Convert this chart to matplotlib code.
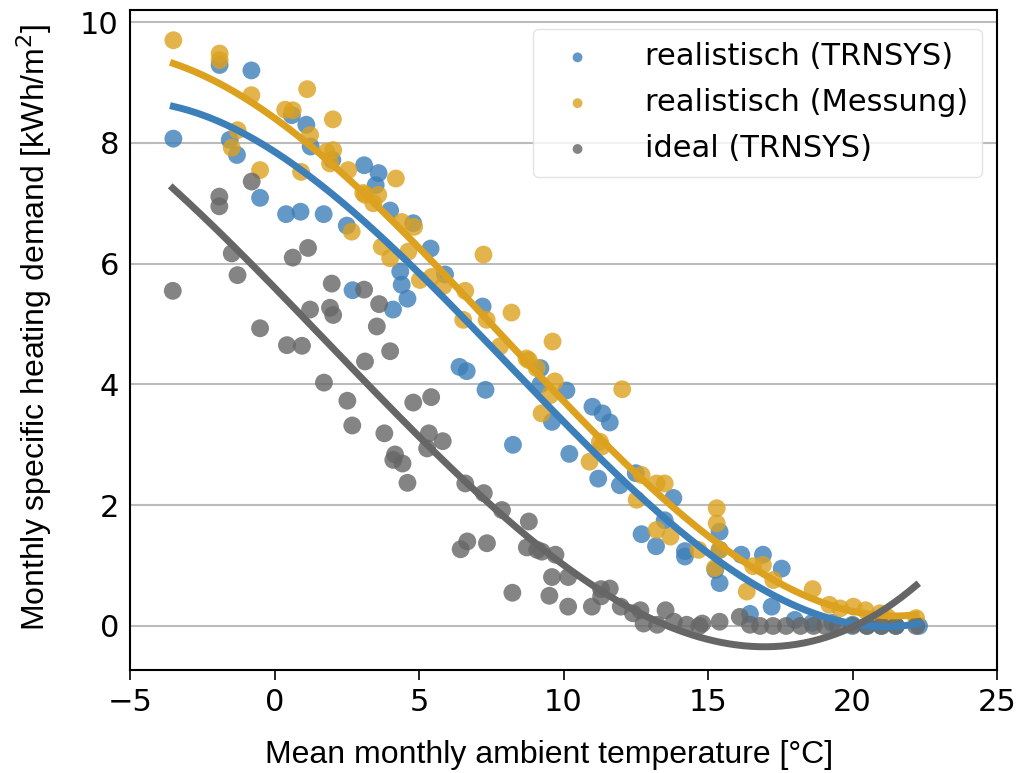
import numpy as np
import matplotlib
matplotlib.use("Agg")
import matplotlib.pyplot as plt

# realistic (TRNSYS)
blue_x = [-3.5, -1.9, -0.8, -1.55, -1.3, -0.5, 0.4, 0.9, 1.7, 2.5, 0.6, 1.1, 1.25, 2.0,
          3.1, 3.6, 3.5, 4.0, 4.8, 5.4, 4.35, 4.4, 4.6, 4.1, 2.7, 5.9, 7.2, 6.4, 6.65,
          7.3, 8.25, 9.2, 9.2, 9.6, 10.1, 10.2, 11.0, 11.35, 11.6, 11.2, 11.95, 12.5,
          13.8, 12.7, 13.2, 13.5, 14.2, 14.2, 15.4, 15.4, 15.25, 15.4, 16.15, 16.9,
          17.55, 16.45, 17.2, 18.0, 18.6, 19.3, 20.0, 20.5, 21.0, 21.5, 22.3]
blue_y = [8.07, 9.29, 9.2, 8.05, 7.8, 7.09, 6.82, 6.86, 6.82, 6.63, 8.46, 8.3, 7.94, 7.72,
          7.63, 7.5, 7.3, 6.88, 6.67, 6.25, 5.87, 5.65, 5.42, 5.24, 5.56, 5.82, 5.29, 4.29, 4.22,
          3.91, 3.0, 4.27, 4.0, 3.38, 3.9, 2.85, 3.63, 3.52, 3.37, 2.44, 2.33, 2.53,
          2.12, 1.52, 1.32, 1.75, 1.15, 1.24, 1.56, 1.26, 0.93, 0.71, 1.18, 1.18,
          0.95, 0.2, 0.32, 0.1, 0.05, 0.05, 0.02, 0.0, 0.0, 0.0, 0.0]

# realistic (measurement)
gold_x = [-3.5, -1.9, -1.9, -0.8, 1.13, 0.37, 0.63, 2.02, -1.28, -1.48, -0.5, 1.23, 0.92,
          1.8, 2.03, 1.92, 2.55, 3.07, 2.67, 4.2, 3.13, 3.59, 3.42, 4.4, 4.83, 3.71, 4.0,
          4.63, 7.23, 5.03, 5.44, 6.6, 5.84, 6.53, 7.34, 8.2, 7.8, 9.62, 8.8, 9.07, 8.72,
          9.7, 9.53, 9.24, 12.03, 11.26, 11.32, 10.9, 12.7, 13.22, 13.5, 12.53, 13.22,
          13.7, 15.3, 15.3, 15.4, 14.67, 15.24, 16.56, 16.9, 17.26, 16.34, 18.62, 19.2,
          19.57, 20.03, 20.45, 20.95, 21.2, 22.2]
gold_y = [9.7, 9.48, 9.37, 8.79, 8.89, 8.55, 8.54, 8.39, 8.21, 7.92, 7.55, 8.13, 7.52,
          7.85, 7.88, 7.66, 7.55, 7.17, 6.53, 7.41, 7.14, 7.14, 7.0, 6.69, 6.61, 6.28, 6.09,
          6.2, 6.15, 5.73, 5.78, 5.55, 5.63, 5.07, 5.07, 5.19, 4.63, 4.71, 4.4, 4.27, 4.43,
          4.05, 3.82, 3.52, 3.92, 3.05, 2.97, 2.72, 2.5, 2.36, 2.36, 2.09, 1.59,
          1.48, 1.95, 1.7, 1.26, 1.26, 0.96, 0.99, 1.01, 0.76, 0.57, 0.61, 0.35,
          0.29, 0.32, 0.26, 0.21, 0.15, 0.13]

# ideal (TRNSYS)
gray_x = [-0.79, -1.91, -1.91, -1.48, -1.28, 0.63, 1.16, -3.52, -0.5, 0.43, 0.95, 1.23,
          1.98, 1.92, 2.03, 3.1, 3.62, 3.54, 4.0, 3.13, 1.71, 2.52, 2.69, 3.8, 4.8, 5.42,
          4.17, 4.11, 4.43, 4.6, 5.34, 5.82, 5.28, 6.6, 7.24, 7.87, 8.8, 6.44, 6.67, 7.35,
          8.73, 9.09, 9.25, 9.72, 8.23, 9.6, 10.16, 9.51, 10.16, 10.98, 11.3, 11.6, 11.3,
          11.98, 12.4, 12.66, 12.77, 13.24, 13.53, 13.82, 14.26, 14.7, 14.8, 15.4, 16.1,
          16.45, 16.8, 17.25, 17.7, 18.2, 18.65, 19.05, 19.5, 20.0, 20.5, 21.0, 21.5, 22.2]
gray_y = [7.36, 7.11, 6.95, 6.17, 5.81, 6.1, 6.26, 5.55, 4.93, 4.65, 4.64, 5.24,
          5.67, 5.27, 5.15, 5.57, 5.33, 4.96, 4.55, 4.38, 4.03, 3.73, 3.32, 3.19, 3.7, 3.79,
          2.84, 2.75, 2.69, 2.37, 3.19, 3.06, 2.94, 2.36, 2.2, 1.92, 1.73, 1.27, 1.4, 1.37,
          1.3, 1.26, 1.23, 1.18, 0.55, 0.81, 0.81, 0.5, 0.32, 0.32, 0.49, 0.62, 0.61,
          0.32, 0.21, 0.26, 0.04, 0.02, 0.26, 0.07, 0.02, 0.0, 0.04, 0.07, 0.15,
          0.02, 0.0, 0.0, 0.0, 0.0, 0.0, 0.0, 0.0, 0.0, 0.0, 0.0, 0.0, 0.0]

labels = ["realistisch (TRNSYS)", "realistisch (Messung)", "ideal (TRNSYS)"]
colors = ["#3d7fb9", "#dca21f", "#666666"]
series = [(blue_x, blue_y), (gold_x, gold_y), (gray_x, gray_y)]

fig = plt.figure(figsize=(10.36, 7.73), dpi=100)
ax = fig.add_axes([0.1255, 0.1332, 0.8369, 0.8538])

for (xs, ys), c, lab in zip(series, colors, labels):
    ax.scatter(xs, ys, s=165, color=c, alpha=0.8, edgecolors="none", label=lab, zorder=3)

for (xs, ys), c in zip(series, colors):
    coef = np.polyfit(xs, ys, 3)
    xx = np.linspace(min(xs), max(xs), 200)
    ax.plot(xx, np.polyval(coef, xx), color=c, lw=5, zorder=4)

ax.set_xlim(-5, 25)
ax.set_ylim(-0.73, 10.2)
ax.set_xticks([-5, 0, 5, 10, 15, 20, 25])
ax.set_yticks([0, 2, 4, 6, 8, 10])
ax.yaxis.grid(True, color="#bbbbbb", lw=1.5)
ax.set_axisbelow(True)
ax.tick_params(axis="both", labelsize=22, length=7, width=1.2)
ax.tick_params(axis="y", length=0, pad=8)
ax.tick_params(axis="x", pad=6)
for sp in ax.spines.values():
    sp.set_linewidth(1.5)

ax.set_xlabel("Mean monthly ambient temperature [°C]", fontsize=23,
              family="Liberation Sans")
ax.set_ylabel("Monthly specific heating demand [kWh/m$^2$]", fontsize=23,
              family="Liberation Sans")
ax.xaxis.set_label_coords(0.483, -0.106)
ax.yaxis.set_label_coords(-0.088, 0.52)

leg = ax.legend(loc="upper right", fontsize=22, frameon=True, markerscale=0.55,
                handletextpad=1.2, borderpad=0.45, labelspacing=0.55,
                bbox_to_anchor=(1.0, 0.995))
leg.get_frame().set_edgecolor("#dddddd")

fig.savefig("out.png", dpi=100)
